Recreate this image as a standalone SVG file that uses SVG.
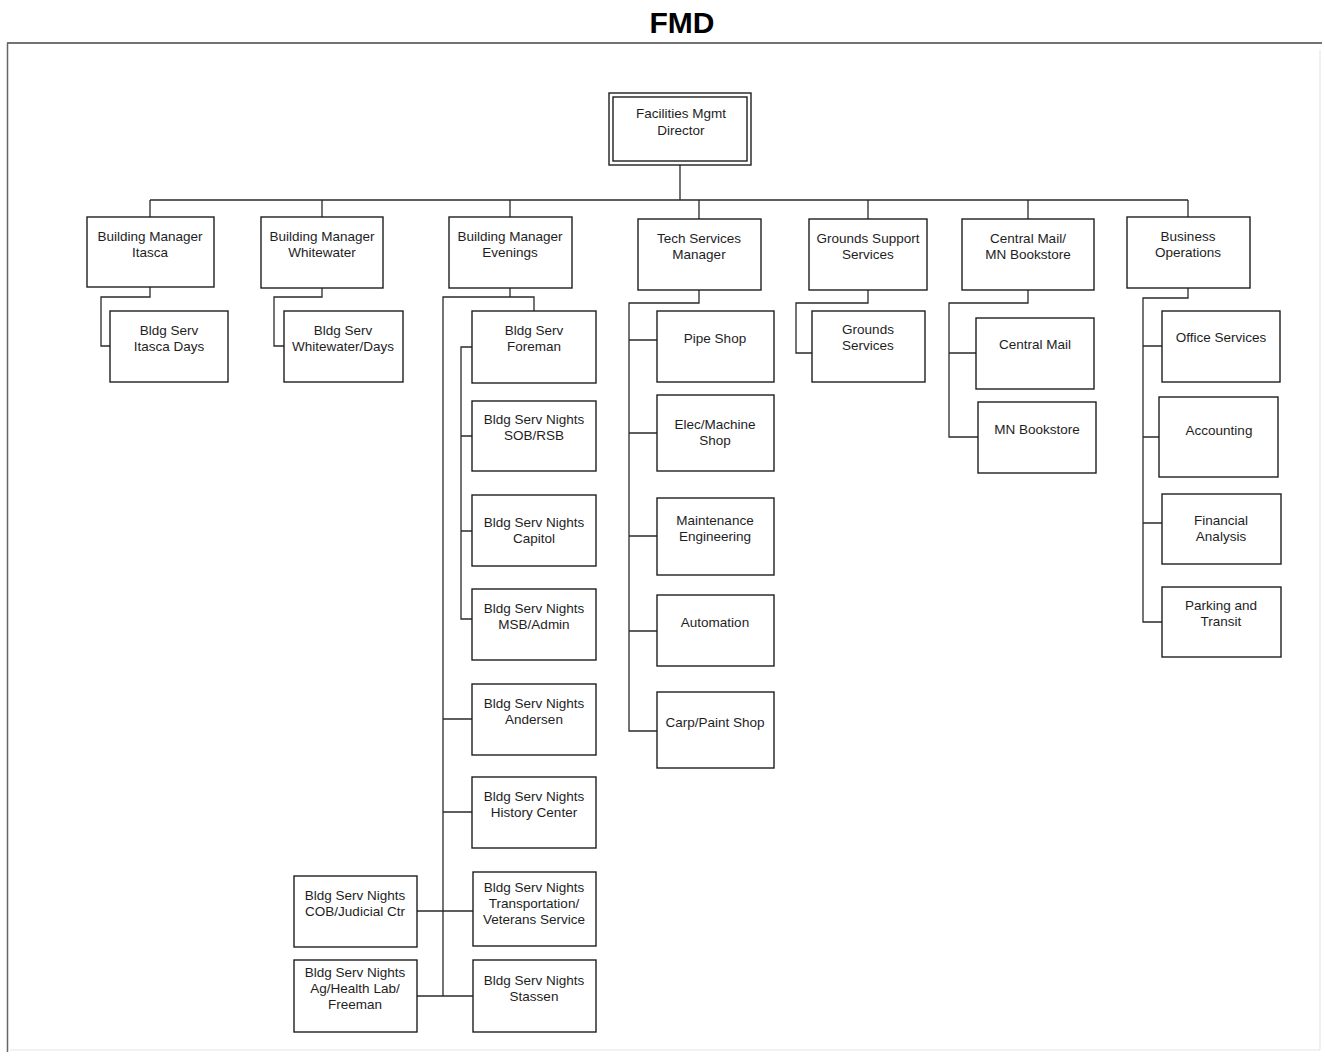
<svg xmlns="http://www.w3.org/2000/svg" width="1325" height="1057" viewBox="0 0 1325 1057">
  <style>
    .box { fill: #ffffff; stroke: #1e1e1e; stroke-width: 1.4; }
    .wire { fill: none; stroke: #2a2a2a; stroke-width: 1.3; }
    .lbl { font-family: "Liberation Sans", Arial, sans-serif; font-size: 13.5px; fill: #1e1e1e; text-anchor: middle; }
    .title { font-family: "Liberation Sans", Arial, sans-serif; font-size: 30px; font-weight: bold; fill: #000; text-anchor: middle; }
  </style>
  <rect width="1325" height="1057" fill="#ffffff"/>

  <!-- heading and page frame -->
  <text class="title" x="682" y="33">FMD</text>
  <path d="M7 43 H1322" stroke="#444" stroke-width="1.6" fill="none"/>
  <path d="M7.5 43 V1052" stroke="#666" stroke-width="1.5" fill="none"/>
  <path d="M1320 50 V1050 M10 1050 H1320" stroke="#e6e6e6" stroke-width="1.2" fill="none"/>

  <!-- connectors -->
  <g id="connectors" class="wire">
    <path d="M680 165 V200 M150 200 H1188"/>
    <path d="M150 200 V217 M322 200 V217 M510 200 V217 M699 200 V219 M868 200 V219 M1028 200 V219 M1188 200 V217"/>
    <!-- Itasca / Whitewater -->
    <path d="M150 287 V297 H101 V346 H110"/>
    <path d="M322 288 V297 H274 V346 H284"/>
    <!-- Evenings -->
    <path d="M510 288 V297"/>
    <path d="M534 311 V297 H443 V996"/>
    <path d="M472 347 H461 V619 H472 M461 436 H472 M461 531 H472"/>
    <path d="M443 719 H472 M443 812 H472 M417 911 H473 M417 996 H473"/>
    <!-- Tech services -->
    <path d="M699 290 V303 H629 V731 H657 M629 340 H657 M629 433 H657 M629 536 H657 M629 631 H657"/>
    <!-- Grounds -->
    <path d="M868 290 V303 H796 V353 H812"/>
    <!-- Central Mail -->
    <path d="M1028 290 V303 H949 V437 H978 M949 353 H976"/>
    <!-- Business operations -->
    <path d="M1188 288 V298 H1143 V622 H1162 M1143 346 H1162 M1143 437 H1159 M1143 523 H1162"/>
  </g>

  <!-- top -->
  <g id="director">
    <rect class="box" x="609" y="93" width="142" height="72"/>
    <rect class="box" x="613" y="97" width="134" height="64"/>
    <text class="lbl" x="681" y="118">Facilities Mgmt</text>
    <text class="lbl" x="681" y="135">Director</text>
  </g>

  <!-- managers -->
  <g id="bm-itasca">
    <rect class="box" x="87" y="217" width="127" height="70"/>
    <text class="lbl" x="150" y="241">Building Manager</text>
    <text class="lbl" x="150" y="257">Itasca</text>
  </g>
  <g id="bm-whitewater">
    <rect class="box" x="261" y="217" width="122" height="71"/>
    <text class="lbl" x="322" y="241">Building Manager</text>
    <text class="lbl" x="322" y="257">Whitewater</text>
  </g>
  <g id="bm-evenings">
    <rect class="box" x="449" y="217" width="123" height="71"/>
    <text class="lbl" x="510" y="241">Building Manager</text>
    <text class="lbl" x="510" y="257">Evenings</text>
  </g>
  <g id="tech-services">
    <rect class="box" x="638" y="219" width="123" height="71"/>
    <text class="lbl" x="699" y="243">Tech Services</text>
    <text class="lbl" x="699" y="259">Manager</text>
  </g>
  <g id="grounds-support">
    <rect class="box" x="809" y="219" width="118" height="71"/>
    <text class="lbl" x="868" y="243">Grounds Support</text>
    <text class="lbl" x="868" y="259">Services</text>
  </g>
  <g id="central-mail-bookstore">
    <rect class="box" x="962" y="219" width="132" height="71"/>
    <text class="lbl" x="1028" y="243">Central Mail/</text>
    <text class="lbl" x="1028" y="259">MN Bookstore</text>
  </g>
  <g id="business-ops">
    <rect class="box" x="1127" y="217" width="123" height="71"/>
    <text class="lbl" x="1188" y="241">Business</text>
    <text class="lbl" x="1188" y="257">Operations</text>
  </g>

  <!-- building services -->
  <g id="bs-itasca-days">
    <rect class="box" x="110" y="311" width="118" height="71"/>
    <text class="lbl" x="169" y="335">Bldg Serv</text>
    <text class="lbl" x="169" y="351">Itasca Days</text>
  </g>
  <g id="bs-whitewater-days">
    <rect class="box" x="284" y="311" width="119" height="71"/>
    <text class="lbl" x="343" y="335">Bldg Serv</text>
    <text class="lbl" x="343" y="351">Whitewater/Days</text>
  </g>
  <g id="bs-foreman">
    <rect class="box" x="472" y="311" width="124" height="72"/>
    <text class="lbl" x="534" y="335">Bldg Serv</text>
    <text class="lbl" x="534" y="351">Foreman</text>
  </g>
  <g id="bs-sob-rsb">
    <rect class="box" x="472" y="401" width="124" height="70"/>
    <text class="lbl" x="534" y="424">Bldg Serv Nights</text>
    <text class="lbl" x="534" y="440">SOB/RSB</text>
  </g>
  <g id="bs-capitol">
    <rect class="box" x="472" y="495" width="124" height="71"/>
    <text class="lbl" x="534" y="527">Bldg Serv Nights</text>
    <text class="lbl" x="534" y="543">Capitol</text>
  </g>
  <g id="bs-msb-admin">
    <rect class="box" x="472" y="589" width="124" height="71"/>
    <text class="lbl" x="534" y="613">Bldg Serv Nights</text>
    <text class="lbl" x="534" y="629">MSB/Admin</text>
  </g>
  <g id="bs-andersen">
    <rect class="box" x="472" y="684" width="124" height="71"/>
    <text class="lbl" x="534" y="708">Bldg Serv Nights</text>
    <text class="lbl" x="534" y="724">Andersen</text>
  </g>
  <g id="bs-history">
    <rect class="box" x="472" y="777" width="124" height="71"/>
    <text class="lbl" x="534" y="801">Bldg Serv Nights</text>
    <text class="lbl" x="534" y="817">History Center</text>
  </g>
  <g id="bs-transportation">
    <rect class="box" x="473" y="872" width="123" height="74"/>
    <text class="lbl" x="534" y="892">Bldg Serv Nights</text>
    <text class="lbl" x="534" y="908">Transportation/</text>
    <text class="lbl" x="534" y="924">Veterans Service</text>
  </g>
  <g id="bs-stassen">
    <rect class="box" x="473" y="960" width="123" height="72"/>
    <text class="lbl" x="534" y="985">Bldg Serv Nights</text>
    <text class="lbl" x="534" y="1001">Stassen</text>
  </g>
  <g id="bs-cob">
    <rect class="box" x="294" y="876" width="123" height="71"/>
    <text class="lbl" x="355" y="900">Bldg Serv Nights</text>
    <text class="lbl" x="355" y="916">COB/Judicial Ctr</text>
  </g>
  <g id="bs-ag-health">
    <rect class="box" x="294" y="960" width="123" height="72"/>
    <text class="lbl" x="355" y="977">Bldg Serv Nights</text>
    <text class="lbl" x="355" y="993">Ag/Health Lab/</text>
    <text class="lbl" x="355" y="1009">Freeman</text>
  </g>

  <!-- tech shops -->
  <g id="pipe-shop">
    <rect class="box" x="657" y="311" width="117" height="71"/>
    <text class="lbl" x="715" y="343">Pipe Shop</text>
  </g>
  <g id="elec-machine">
    <rect class="box" x="657" y="395" width="117" height="76"/>
    <text class="lbl" x="715" y="429">Elec/Machine</text>
    <text class="lbl" x="715" y="445">Shop</text>
  </g>
  <g id="maint-eng">
    <rect class="box" x="657" y="498" width="117" height="77"/>
    <text class="lbl" x="715" y="525">Maintenance</text>
    <text class="lbl" x="715" y="541">Engineering</text>
  </g>
  <g id="automation">
    <rect class="box" x="657" y="595" width="117" height="71"/>
    <text class="lbl" x="715" y="627">Automation</text>
  </g>
  <g id="carp-paint">
    <rect class="box" x="657" y="692" width="117" height="76"/>
    <text class="lbl" x="715" y="727">Carp/Paint Shop</text>
  </g>

  <!-- grounds / mail / business units -->
  <g id="grounds-services">
    <rect class="box" x="812" y="311" width="113" height="71"/>
    <text class="lbl" x="868" y="334">Grounds</text>
    <text class="lbl" x="868" y="350">Services</text>
  </g>
  <g id="central-mail">
    <rect class="box" x="976" y="318" width="118" height="71"/>
    <text class="lbl" x="1035" y="349">Central Mail</text>
  </g>
  <g id="mn-bookstore">
    <rect class="box" x="978" y="402" width="118" height="71"/>
    <text class="lbl" x="1037" y="434">MN Bookstore</text>
  </g>
  <g id="office-services">
    <rect class="box" x="1162" y="311" width="118" height="71"/>
    <text class="lbl" x="1221" y="342">Office Services</text>
  </g>
  <g id="accounting">
    <rect class="box" x="1159" y="397" width="119" height="80"/>
    <text class="lbl" x="1219" y="435">Accounting</text>
  </g>
  <g id="financial-analysis">
    <rect class="box" x="1162" y="494" width="119" height="70"/>
    <text class="lbl" x="1221" y="525">Financial</text>
    <text class="lbl" x="1221" y="541">Analysis</text>
  </g>
  <g id="parking-transit">
    <rect class="box" x="1162" y="587" width="119" height="70"/>
    <text class="lbl" x="1221" y="610">Parking and</text>
    <text class="lbl" x="1221" y="626">Transit</text>
  </g>
</svg>
